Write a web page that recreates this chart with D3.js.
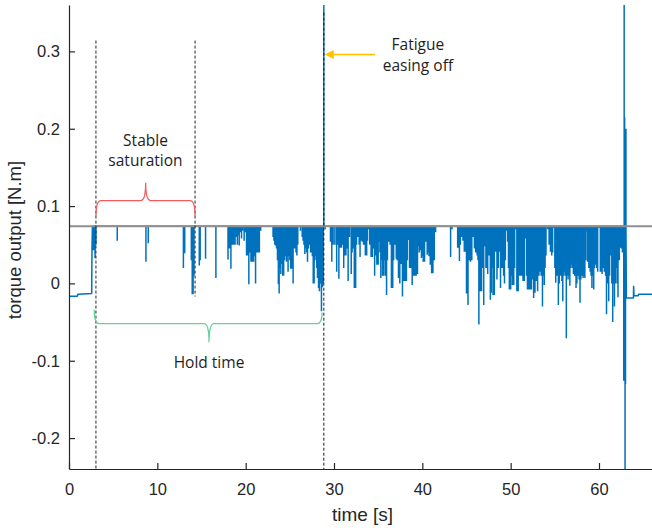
<!DOCTYPE html>
<html>
<head>
<meta charset="utf-8">
<script src="https://cdn.jsdelivr.net/npm/d3@7"></script>
<style>
  body { margin: 0; background: #fff; }
  svg { display: block; }
</style>
</head>
<body>
<div id="maViz"></div>
<script>
// torque output vs time, saturated signal with dips

// ---- data ----
const sat = 0.074; // saturation level (grey line)

// before the hold starts
const startT = [0, 0.95, 1.0, 2.57, 2.6];
const startV = [-0.0165, -0.0165, -0.014, -0.013, 0.043];

// dips from saturation during the hold
const holdT = [
  2.65, 2.75, 2.85, 2.95, 3.05, 5.46, 8.71, 8.97, 12.95, 13.1,
  13.85, 13.95, 14.05, 14.15, 14.75, 14.85, 15.46, 16.63, 18.0, 18.1,
  18.2, 18.33, 18.45, 18.55, 18.67, 18.8, 18.9, 19.06, 19.17, 19.27,
  19.4, 19.53, 19.65, 19.83, 20.0, 20.1, 20.2, 20.36, 20.5, 20.6,
  20.7, 20.8, 20.9, 21.0, 21.12, 21.25, 21.35, 21.45, 21.55, 21.7,
  23.1, 23.2, 23.3, 23.38, 23.5, 23.6, 23.7, 23.79, 23.88, 23.98,
  24.1, 24.2, 24.3, 24.4, 24.52, 24.62, 24.72, 24.8, 24.9, 25.0,
  25.1, 25.2, 25.3, 25.37, 25.5, 25.6, 25.7, 25.8, 25.9, 26.2,
  26.4, 26.5, 26.6, 26.7, 26.8, 26.9, 27.0, 27.1, 27.2, 27.35,
  27.45, 27.55, 27.65, 27.75, 27.85, 27.95, 28.05, 28.13, 28.25, 28.35,
  28.45, 28.58, 28.68, 28.78
];
const holdV = [
  0.043, 0.043, 0.043, 0.033, 0.05, 0.055, 0.028, 0.052, 0.02, 0.039,
  0.03, -0.014, -0.014, 0.01, 0.023, 0.03, 0.032, 0.007, 0.031, 0.045,
  0.045, 0.019, 0.05, 0.05, 0.05, 0.05, 0.06, 0.05, 0.062, 0.049,
  0.066, 0.058, 0.068, 0.055, 0.066, 0.036, 0.036, -0.001, 0.04, 0.028,
  0.028, 0.028, 0.028, 0.035, 0.0, 0.04, 0.04, 0.04, 0.04, 0.068,
  0.06, 0.055, 0.05, 0.049, 0.045, 0.03, -0.001, -0.013, 0.02, 0.012,
  0.025, 0.01, 0.01, 0.03, 0.035, 0.028, 0.035, 0.015, 0.035, 0.03,
  0.019, 0.019, 0.04, 0.0, 0.045, 0.045, 0.04, 0.036, 0.05, 0.068,
  0.06, 0.055, 0.05, 0.038, 0.045, 0.04, 0.028, 0.045, 0.05, 0.04,
  0.04, 0.035, 0.0, 0.0, 0.03, 0.035, 0.02, 0.007, -0.006, -0.01,
  0.0, -0.036, -0.005, 0.0
];

// fatigue spike + dips after it
const fatigueT = [
  28.85, 29.0, 29.6, 29.75, 29.9, 30.1, 30.3, 30.45, 30.55, 30.7, 30.85,
  30.95, 31.1, 31.2, 31.35, 31.45, 31.6, 31.75, 31.95, 32.05, 32.15,
  32.3, 32.45, 32.55, 32.7, 32.85, 32.95, 33.05, 33.2, 33.35, 33.45,
  33.55, 33.7, 33.8, 33.95, 34.05, 34.2, 34.35, 34.45, 34.6, 34.7,
  34.85, 35.0, 35.1, 35.2, 35.3, 35.4, 35.5, 35.65, 35.75, 35.85,
  35.95, 36.05, 36.2, 36.35, 36.5, 36.65, 36.75, 36.9, 37.05, 37.15,
  37.3, 37.45, 37.6, 37.75, 37.9, 38.05, 38.2, 38.3, 38.4, 38.55,
  38.7, 38.85, 39.0, 39.15, 39.3, 39.45, 39.55, 39.65, 39.75, 39.9,
  40.0, 40.1, 40.25, 40.4, 40.55, 40.65, 40.75, 40.9, 41.05, 41.2,
  41.35, 41.5, 43.2, 43.35, 44.0, 44.15, 44.2, 44.3, 44.45, 44.6,
  44.75, 44.85, 45.0, 45.1, 45.17, 45.3, 45.45, 45.6, 45.75, 45.9,
  46.05, 46.2, 46.3, 46.4, 46.55, 46.7, 46.82, 46.95, 47.1, 47.2,
  47.3, 47.4, 47.55, 47.7, 47.8, 47.9, 48.0, 48.15, 48.3, 48.45,
  48.6, 48.7, 48.85, 49.0, 49.1, 49.2, 49.3, 49.4, 49.5, 49.65,
  49.75, 49.85, 50.0, 50.1, 50.2, 50.35, 50.45, 50.55, 50.7, 50.85,
  51.0, 51.1, 51.25, 51.4, 51.55, 51.7, 51.8, 51.9, 52.05, 52.2,
  52.35, 52.45, 52.6, 52.75, 52.9, 53.05, 53.2, 53.35, 53.45, 53.6,
  53.7, 53.8, 53.9, 54.0, 54.2, 54.35, 54.5, 54.65, 54.75, 54.85,
  55.0, 55.1, 55.25, 55.4, 55.5, 55.65, 55.8, 55.9, 56.0, 56.1,
  56.2, 56.3, 56.4, 56.5, 56.6, 56.7, 56.8, 56.9, 57.0, 57.1,
  57.25, 57.4, 57.5, 57.6, 57.75, 57.85, 57.95, 58.05, 58.2, 58.3,
  58.4, 58.5, 58.6, 58.7, 58.85, 59.0, 59.1, 59.2, 59.3, 59.4,
  59.5, 59.65, 59.75, 59.85, 60.0, 60.15, 60.25, 60.35, 60.5, 60.6,
  60.75, 60.85, 60.95, 61.1, 61.2, 61.35, 61.45, 61.55, 61.65, 61.75,
  61.85, 61.95, 62.05, 62.15, 62.3, 62.4, 62.55, 62.65
];
const fatigueV = [
  0.365, 0.07, 0.054, 0.028, 0.05, 0.05, 0.015, 0.05, 0.006, 0.046, 0.046,
  0.05, 0.02, 0.036, 0.036, 0.045, 0.003, 0.06, 0.012, 0.04, 0.045,
  -0.006, -0.006, 0.05, 0.06, 0.05, 0.034, 0.055, 0.054, 0.05, 0.05,
  0.036, 0.036, 0.055, 0.07, 0.05, 0.034, 0.034, 0.045, 0.01, 0.036,
  0.024, 0.024, 0.054, 0.04, 0.007, 0.03, 0.01, 0.01, 0.03, 0.01,
  -0.015, 0.03, 0.054, 0.05, -0.006, -0.006, 0.03, 0.05, 0.032, 0.03,
  0.007, 0.0, 0.025, -0.017, 0.003, 0.003, 0.003, 0.03, 0.056, 0.02,
  0.02, -0.002, 0.01, 0.01, 0.01, 0.012, 0.048, 0.04, 0.043, 0.033,
  0.035, 0.028, 0.028, 0.054, 0.037, 0.04, 0.035, 0.024, 0.013, 0.013,
  0.03, 0.066, 0.034, 0.07, 0.046, 0.046, 0.029, 0.05, 0.06, 0.055,
  0.041, 0.041, -0.013, 0.03, -0.028, 0.03, 0.028, 0.03, 0.06, 0.045,
  0.04, 0.036, 0.03, -0.053, -0.01, -0.01, 0.02, -0.028, 0.048, 0.02,
  0.02, 0.012, 0.036, -0.021, -0.012, 0.02, -0.015, -0.015, 0.041, 0.005,
  0.02, 0.041, -0.006, 0.02, 0.02, 0.01, 0.0, 0.03, 0.068, 0.054,
  0.02, -0.008, -0.008, 0.01, -0.002, -0.002, 0.02, 0.07, -0.01, -0.01,
  0.01, 0.01, 0.01, 0.003, 0.003, 0.058, 0.01, -0.008, -0.008, -0.008,
  -0.008, 0.005, -0.019, -0.012, 0.003, -0.01, 0.01, 0.015, 0.01, -0.03,
  0.01, -0.002, 0.02, 0.036, 0.07, 0.05, 0.041, 0.036, 0.04, 0.072,
  0.02, 0.001, 0.01, -0.028, 0.0, 0.01, 0.003, -0.023, 0.01, 0.015,
  0.01, -0.071, 0.01, 0.005, 0.01, -0.003, 0.02, 0.024, 0.02, 0.012,
  0.01, -0.006, 0.0, 0.01, 0.005, -0.025, 0.005, 0.01, 0.007, 0.01,
  0.007, 0.03, 0.067, 0.028, 0.02, 0.015, 0.01, -0.006, 0.01, -0.008,
  0.02, 0.024, 0.02, 0.015, 0.072, 0.015, 0.015, 0.012, 0.02, 0.015,
  0.01, -0.04, 0.0, -0.023, 0.01, 0.036, 0.0, -0.05, 0.0, -0.03,
  0.0, 0.02, 0.0, -0.018, 0.03, 0.046, 0.045, 0.04
];

// release: big swing at the end
const releaseT = [62.8, 62.85, 62.9, 62.95, 63.0, 63.05];
const releaseV = [-0.126, 0.365, 0.215, -0.245, -0.13, 0.2];

// after release
const endT = [63.1, 63.9, 63.92, 63.96, 64.45, 64.47, 66];
const endV = [-0.019, -0.019, -0.003, -0.016, -0.016, -0.014, -0.014];

// axes
const xTicks = [0, 10, 20, 30, 40, 50, 60];
const yTicks = [-0.2, -0.1, 0, 0.1, 0.2, 0.3];
const yTickLabels = ["-0.2", "-0.1", "0", "0.1", "0.2", "0.3"];

/////////////////////////////////////////////////////////

const margin = {top: 5, right: 0, bottom: 59, left: 69};
const width = 652 - margin.left - margin.right;
const height = 528 - margin.top - margin.bottom;
const blue = '#0072BD';
const axisCol = '#262626';

const svg = d3.select("#maViz")
  .append("svg")
    .attr("width", width + margin.left + margin.right)
    .attr("height", height + margin.top + margin.bottom)
  .append("g")
    .attr("transform", `translate(${margin.left},${margin.top})`);

const x = d3.scaleLinear().domain([0, 66]).range([0, width]);
const y = d3.scaleLinear().domain([-0.24, 0.36]).range([height, 0]);

svg.append("clipPath").attr("id", "clip")
  .append("rect").attr("width", width).attr("height", height);

/////////////////////////////////////////////////////////
// signal points

const pts = [];
startT.forEach((t, i) => pts.push([t, startV[i]]));
function addSpikes(T, V) {
  const n = Math.min(T.length, V.length);
  for (let i = 0; i < n; i++) {
    pts.push([T[i], sat], [T[i], V[i]], [T[i], sat]);
  }
}
addSpikes(holdT, holdV);
addSpikes(fatigueT, fatigueV);
addSpikes(releaseT, releaseV);
endT.forEach((t, i) => pts.push([t, endV[i]]));

const line = d3.line().x(d => x(d[0])).y(d => y(d[1]));

const plot = svg.append("g").attr("clip-path", "url(#clip)");

plot.append("path")
  .datum(pts)
  .attr("d", line)
  .attr("fill", "none")
  .attr("stroke", blue)
  .attr("stroke-width", 1.5)
  .attr("stroke-linejoin", "bevel");

// saturation line
plot.append("line")
  .attr("x1", 0).attr("x2", width)
  .attr("y1", y(sat)).attr("y2", y(sat))
  .attr("stroke", "#8f8f8f")
  .attr("stroke-width", 2);

// dashed markers
const markers = [
  {t: 3.05, top: 0.314, bot: -0.24, col: "#222"},
  {t: 14.27, top: 0.314, bot: -0.017, col: "#222"},
  {t: 28.85, top: 0.35, bot: -0.24, col: "#0d1a33"}
];
plot.selectAll(".mark")
  .data(markers)
  .join("line")
    .attr("x1", d => x(d.t)).attr("x2", d => x(d.t))
    .attr("y1", d => y(d.top)).attr("y2", d => y(d.bot))
    .attr("stroke", d => d.col)
    .attr("stroke-width", 1)
    .attr("stroke-dasharray", "3,2");

/////////////////////////////////////////////////////////
// axes

const xAxis = svg.append("g")
  .attr("transform", `translate(0,${height})`)
  .call(d3.axisBottom(x).tickValues(xTicks).tickSizeInner(-6).tickSizeOuter(0).tickPadding(14));

const yAxis = svg.append("g")
  .call(d3.axisLeft(y).tickValues(yTicks).tickFormat((d, i) => yTickLabels[i])
    .tickSizeInner(-6).tickSizeOuter(0).tickPadding(9));

[xAxis, yAxis].forEach(g => {
  g.select(".domain").attr("stroke", axisCol).attr("stroke-width", 1.2);
  g.selectAll(".tick line").attr("stroke", axisCol).attr("stroke-width", 1.2);
  g.selectAll(".tick text")
    .attr("fill", axisCol)
    .style("font-family", "'Liberation Sans', Arial, sans-serif")
    .style("font-size", "16.5px");
});

svg.append("text")
  .attr("x", width / 2 + 2)
  .attr("y", height + 52)
  .attr("text-anchor", "middle")
  .attr("fill", axisCol)
  .style("font-family", "'Liberation Sans', Arial, sans-serif")
  .style("font-size", "19px")
  .text("time [s]");

svg.append("text")
  .attr("transform", `translate(${21 - margin.left},${240 - margin.top}) rotate(-90)`)
  .attr("text-anchor", "middle")
  .attr("fill", axisCol)
  .style("font-family", "'Liberation Sans', Arial, sans-serif")
  .style("font-size", "18.5px")
  .text("torque output [N.m]");

/////////////////////////////////////////////////////////
// annotations

function brace(t1, t2, tm, vBar, vEnd1, vEnd2, vTip) {
  const x1 = x(t1), x2 = x(t2), xm = x(tm);
  const yb = y(vBar), r = 5;
  return `M${x1},${y(vEnd1)} Q${x1},${yb} ${x1 + r},${yb} L${xm - r},${yb}` +
    ` Q${xm},${yb} ${xm},${y(vTip)} Q${xm},${yb} ${xm + r},${yb}` +
    ` L${x2 - r},${yb} Q${x2},${yb} ${x2},${y(vEnd2)}`;
}

svg.append("path")
  .attr("d", brace(3.05, 14.27, 8.68, 0.107, 0.087, 0.087, 0.130))
  .attr("fill", "none").attr("stroke", "#f25c5c").attr("stroke-width", 1.3);

svg.append("path")
  .attr("d", brace(2.86, 28.65, 15.85, -0.052, -0.034, -0.0375, -0.076))
  .attr("fill", "none").attr("stroke", "#66d19a").attr("stroke-width", 1.3);

const notes = [
  {t: 8.66, v: 0.178, s: "Stable"},
  {t: 8.66, v: 0.152, s: "saturation"},
  {t: 15.85, v: -0.109, s: "Hold time"},
  {t: 39.5, v: 0.302, s: "Fatigue"},
  {t: 39.5, v: 0.275, s: "easing off"}
];
svg.selectAll(".note")
  .data(notes)
  .join("text")
    .attr("x", d => x(d.t))
    .attr("y", d => y(d.v))
    .attr("text-anchor", "middle")
    .attr("fill", "#1e1e1e")
    .style("font-family", "'Open Sans', sans-serif")
    .style("font-size", "15.5px")
    .text(d => d.s);

// arrow to the fatigue spike
const arrowY = y(0.296);
svg.append("line")
  .attr("x1", x(34.64)).attr("x2", x(28.95) + 6)
  .attr("y1", arrowY).attr("y2", arrowY)
  .attr("stroke", "#ffc000").attr("stroke-width", 1.3);
svg.append("path")
  .attr("d", `M${x(28.95)},${arrowY} l9,-4.5 l0,9 z`)
  .attr("fill", "#ffc000");
</script>
</body>
</html>
